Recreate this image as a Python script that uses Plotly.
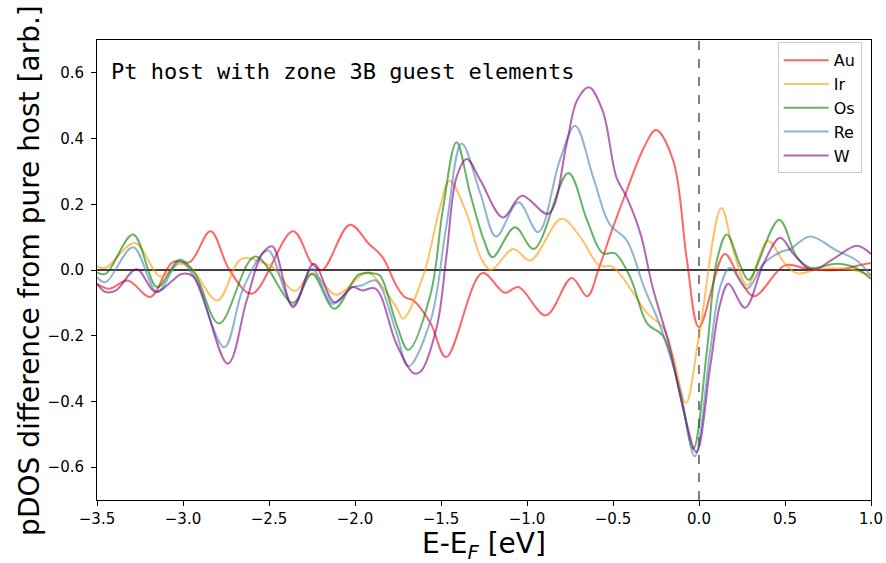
import plotly.graph_objects as go

# energies (eV) and pDOS differences, one pair of lists per guest element
au_x = [-3.5, -3.43, -3.32, -3.19, -3.06, -2.96, -2.84, -2.73, -2.6, -2.36, -2.25, -2.19, -2.03, -1.92, -1.84,
        -1.76, -1.71, -1.66, -1.56, -1.47, -1.26, -1.13, -1.05, -0.89, -0.74, -0.65, -0.58, -0.5, -0.42,
        -0.32, -0.25, -0.15, -0.07, 0.0, 0.15, 0.24, 0.32, 0.5, 0.63, 0.8, 0.98, 1.0]
au_y = [-0.042, -0.057, -0.032, -0.082, 0.024, 0.024, 0.118, 0.0, -0.072, 0.118, 0.019, 0.0, 0.138, 0.08, 0.039,
        -0.047, -0.083, -0.093, -0.163, -0.265, -0.009, -0.069, -0.052, -0.138, -0.024, -0.08, 0.009, 0.13, 0.242,
        0.373, 0.426, 0.333, 0.029, -0.174, 0.049, -0.032, -0.08, 0.014, 0.004, 0.0, 0.02, 0.02]

ir_x = [-3.5, -3.45, -3.28, -3.13, -3.02, -2.95, -2.8, -2.66, -2.52, -2.48, -2.35, -2.25, -2.11, -1.96, -1.92,
        -1.76, -1.72, -1.6, -1.51, -1.45, -1.35, -1.27, -1.21, -1.08, -0.98, -0.8, -0.69, -0.58, -0.5, -0.38,
        -0.3, -0.21, -0.15, -0.076, 0.0, 0.13, 0.2, 0.28, 0.4, 0.5, 0.57, 0.71, 0.9, 1.0]
ir_y = [0.011, 0.007, 0.082, -0.02, 0.019, 0.005, -0.093, 0.034, 0.019, 0.009, -0.064, -0.01, -0.075, -0.014, -0.007,
        -0.113, -0.148, -0.012, 0.181, 0.272, 0.171, 0.039, 0.0, 0.064, 0.029, 0.156, 0.1, 0.014, 0.009, -0.072,
        -0.133, -0.174, -0.263, -0.405, -0.2, 0.189, 0.059, -0.047, 0.088, 0.019, -0.01, 0.004, 0.0, -0.017]

os_x = [-3.5, -3.45, -3.29, -3.15, -3.02, -2.93, -2.79, -2.58, -2.36, -2.25, -2.12, -1.98, -1.9, -1.855, -1.76,
        -1.69, -1.56, -1.49, -1.41, -1.33, -1.25, -1.2, -1.07, -0.96, -0.76, -0.65, -0.56, -0.49, -0.4, -0.3,
        -0.21, -0.11, -0.033, 0.046, 0.104, 0.162, 0.24, 0.288, 0.466, 0.569, 0.646, 0.8, 0.9, 1.0]
os_y = [-0.007, -0.012, 0.108, -0.052, 0.031, -0.012, -0.163, 0.041, -0.1, -0.012, -0.118, -0.014, -0.01, -0.017, -0.163,
        -0.243, -0.072, 0.181, 0.389, 0.231, 0.09, 0.039, 0.13, 0.064, 0.295, 0.15, 0.051, 0.051, -0.022, -0.164,
        -0.2, -0.377, -0.544, -0.245, 0.029, 0.108, 0.014, -0.03, 0.153, 0.039, 0.007, 0.019, 0.009, -0.027]

re_x = [-3.5, -3.45, -3.29, -3.15, -3.02, -2.94, -2.76, -2.655, -2.54, -2.5, -2.36, -2.25, -2.13, -2.015, -1.96,
        -1.88, -1.76, -1.69, -1.56, -1.47, -1.38, -1.27, -1.18, -1.05, -0.935, -0.81, -0.72, -0.615, -0.52, -0.42,
        -0.32, -0.23, -0.11, -0.025, 0.065, 0.123, 0.181, 0.278, 0.375, 0.472, 0.531, 0.646, 0.8, 0.917, 1.0]
re_y = [-0.022, -0.037, 0.069, -0.067, 0.027, -0.017, -0.235, -0.063, 0.049, 0.059, -0.108, 0.004, -0.103, -0.052, -0.047,
        -0.032, -0.189, -0.293, -0.153, 0.13, 0.385, 0.231, 0.102, 0.206, 0.115, 0.333, 0.439, 0.282, 0.14, 0.09,
        -0.052, -0.164, -0.366, -0.567, -0.245, -0.052, 0.007, -0.057, 0.019, 0.054, 0.064, 0.102, 0.059, 0.029, -0.017]

w_x = [-3.5, -3.45, -3.39, -3.27, -3.16, -3.06, -3.01, -2.94, -2.74, -2.63, -2.54, -2.48, -2.36, -2.24, -2.12,
       -2.015, -1.96, -1.88, -1.76, -1.66, -1.62, -1.525, -1.467, -1.41, -1.35, -1.27, -1.14, -1.03, -0.876,
       -0.77, -0.71, -0.64, -0.56, -0.48, -0.42, -0.34, -0.27, -0.17, -0.09, -0.015, 0.065, 0.123, 0.171,
       0.268, 0.375, 0.472, 0.549, 0.656, 0.782, 0.917, 1.0]
w_y = [-0.042, -0.067, -0.062, 0.002, -0.067, -0.032, -0.012, -0.02, -0.285, -0.093, 0.049, 0.072, -0.113, 0.019, -0.098,
       -0.052, -0.062, -0.057, -0.224, -0.314, -0.31, -0.174, 0.049, 0.282, 0.338, 0.272, 0.16, 0.226, 0.171,
       0.383, 0.515, 0.556, 0.484, 0.282, 0.221, 0.11, -0.052, -0.234, -0.427, -0.554, -0.295, -0.103, -0.042,
       -0.115, 0.019, 0.098, 0.049, 0.0, 0.034, 0.074, 0.049]

series = [
    ("Au", au_x, au_y, "rgba(255,0,0,0.6)"),
    ("Ir", ir_x, ir_y, "rgba(255,153,0,0.6)"),
    ("Os", os_x, os_y, "rgba(0,128,0,0.6)"),
    ("Re", re_x, re_y, "rgba(70,130,180,0.6)"),
    ("W", w_x, w_y, "rgba(128,0,128,0.6)"),
]

x_ticks = [-3.5, -3.0, -2.5, -2.0, -1.5, -1.0, -0.5, 0.0, 0.5, 1.0]
y_ticks = [-0.6, -0.4, -0.2, 0.0, 0.2, 0.4, 0.6]

fig = go.Figure()

# zero line and Fermi level
fig.add_hline(y=0, line=dict(color="black", width=1.5), layer="below")
fig.add_vline(x=0, line=dict(color="grey", width=2, dash="dash"), layer="below")

for name, xs, ys, color in series:
    fig.add_trace(go.Scatter(x=xs, y=ys, name=name, mode="lines",
                             line=dict(color=color, width=2, shape="spline", smoothing=1.0)))

fig.add_annotation(text="Pt host with zone 3B guest elements", xref="paper", yref="paper",
                   x=0.016, y=0.962, xanchor="left", yanchor="top", showarrow=False,
                   font=dict(family="DejaVu Sans Mono", size=22, color="black"))

# axis titles placed by hand so the plot area keeps its size
fig.add_annotation(text="E-E<sub><i>F</i></sub> [eV]", xref="paper", yref="paper",
                   x=0.5, y=-0.098, xanchor="center", yanchor="middle", showarrow=False,
                   font=dict(size=28, color="black"))
fig.add_annotation(text="pDOS difference from pure host [arb.]", xref="paper", yref="paper",
                   x=-0.088, y=0.5, xanchor="center", yanchor="middle", textangle=-90, showarrow=False,
                   font=dict(size=28, color="black"))

fig.update_layout(
    width=886, height=563,
    margin=dict(l=97, r=15, t=40, b=63),
    plot_bgcolor="white", paper_bgcolor="white",
    font=dict(family="DejaVu Sans", color="black"),
    showlegend=True,
    legend=dict(x=0.988, y=0.995, xanchor="right", yanchor="top",
                bgcolor="rgba(255,255,255,0.8)", bordercolor="#cccccc", borderwidth=1,
                font=dict(size=16), tracegroupgap=0, itemwidth=45),
)

fig.update_xaxes(range=[-3.5, 1.0], tickvals=x_ticks, tickformat=".1f", automargin=False,
                 showline=True, linecolor="black", linewidth=1, mirror=True,
                 ticks="outside", ticklen=5, tickcolor="black", showgrid=False, zeroline=False,
                 tickfont=dict(size=15))
fig.update_yaxes(range=[-0.7, 0.7], tickvals=y_ticks, tickformat=".1f", automargin=False,
                 showline=True, linecolor="black", linewidth=1, mirror=True,
                 ticks="outside", ticklen=5, tickcolor="black", showgrid=False, zeroline=False,
                 tickfont=dict(size=15), ticklabelstandoff=4)

# the page's default body margin would shift the figure by 8px
fig.write_html("out.html", config={"displayModeBar": False},
               post_script="document.body.style.margin='0';")
